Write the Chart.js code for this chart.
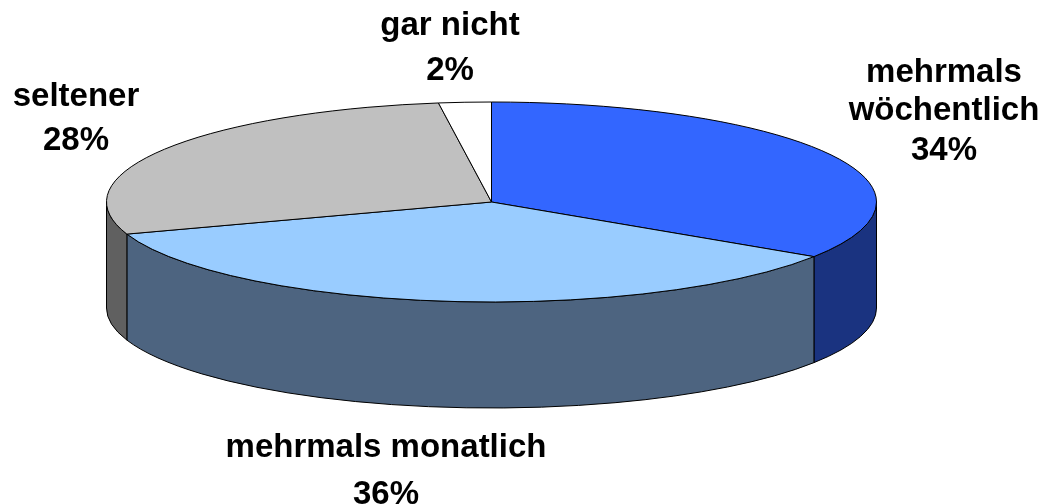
<!DOCTYPE html>
<html>
<head>
<meta charset="utf-8">
<script src="https://cdn.jsdelivr.net/npm/chart.js@4.4.0/dist/chart.umd.min.js"></script>
<style>
  html, body { margin: 0; padding: 0; background: #fff; overflow: hidden; }
</style>
</head>
<body>
<canvas id="myChart" width="1048" height="504"></canvas>
<script>
// data
var categories = [['mehrmals', 'wöchentlich'], 'mehrmals monatlich', 'seltener', 'gar nicht']
var values = [34.2, 35.6, 28.0, 2.2]

// styles
var topColors = ['#3366FF', '#99CCFF', '#C0C0C0', '#FFFFFF']
var sideColors = ['#1A3380', '#4D6480', '#606060', '#BFBFBF']
var labelPos = [
  {x: 944, y: [82, 120, 160]},
  {x: 386, y: [457, 504]},
  {x: 76, y: [106, 150]},
  {x: 450, y: [35, 80]}
]
var RX = 385, RY = 100, DEPTH = 106

var pie3d = {
  id: 'pie3d',
  beforeDatasetsDraw: function(chart){
    var ctx = chart.ctx
    var arcs = chart.getDatasetMeta(0).data
    var cx = arcs[0].x, cy = arcs[0].y
    ctx.save()
    ctx.lineWidth = 1
    ctx.strokeStyle = '#000'
    ctx.lineJoin = 'round'

    // side walls, only the front half is visible
    arcs.forEach(function(arc, i){
      [[0, Math.PI], [2 * Math.PI, 3 * Math.PI]].forEach(function(r){
        var a0 = Math.max(arc.startAngle, r[0])
        var a1 = Math.min(arc.endAngle, r[1])
        if (a1 <= a0) return
        ctx.beginPath()
        ctx.ellipse(cx, cy, RX, RY, 0, a0, a1)
        ctx.lineTo(cx + RX * Math.cos(a1), cy + RY * Math.sin(a1) + DEPTH)
        ctx.ellipse(cx, cy + DEPTH, RX, RY, 0, a1, a0, true)
        ctx.closePath()
        ctx.fillStyle = sideColors[i]
        ctx.fill()
        ctx.stroke()
      })
    })

    // top faces
    arcs.forEach(function(arc){
      ctx.beginPath()
      ctx.moveTo(cx, cy)
      ctx.ellipse(cx, cy, RX, RY, 0, arc.startAngle, arc.endAngle)
      ctx.closePath()
      ctx.fillStyle = arc.options.backgroundColor
      ctx.fill()
      ctx.stroke()
    })
    ctx.restore()
    return false
  },
  afterDraw: function(chart){
    var ctx = chart.ctx
    var total = values.reduce(function(a, b){ return a + b }, 0)
    ctx.save()
    ctx.font = 'bold 33px "Liberation Sans", Arial, sans-serif'
    ctx.fillStyle = '#000'
    ctx.textAlign = 'center'
    ctx.textBaseline = 'alphabetic'
    chart.data.labels.forEach(function(lab, i){
      var lines = [].concat(lab)
      lines.push(Math.round(values[i] / total * 100) + '%')
      lines.forEach(function(t, j){
        ctx.fillText(t, labelPos[i].x, labelPos[i].y[j])
      })
    })
    ctx.restore()
  }
}

var myChart = document.getElementById('myChart').getContext('2d')

var chart = new Chart(myChart, {
  type: 'pie',
  data: {
    labels: categories,
    datasets: [{
      data: values,
      backgroundColor: topColors,
      borderWidth: 0
    }]
  },
  options: {
    responsive: false,
    animation: false,
    layout: { padding: { left: 0, right: 65, top: 0, bottom: 100 } },
    plugins: {
      legend: { display: false },
      tooltip: { enabled: false }
    }
  },
  plugins: [pie3d]
})
</script>
</body>
</html>
